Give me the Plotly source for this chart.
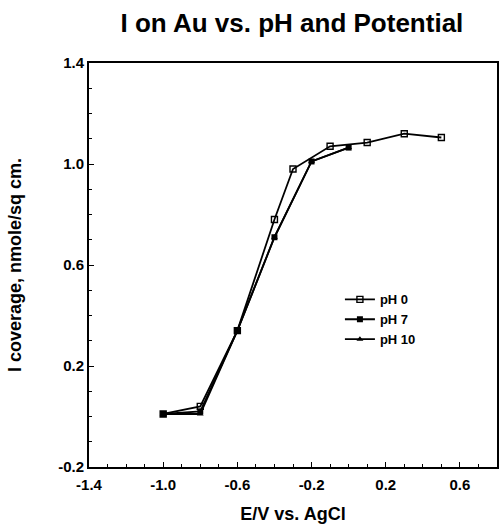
import plotly.graph_objects as go

# Data
ph0_x = [-1.0, -0.8, -0.6, -0.4, -0.3, -0.1, 0.1, 0.3, 0.5]
ph0_y = [0.01, 0.04, 0.34, 0.78, 0.98, 1.07, 1.085, 1.12, 1.105]

ph7_x = [-1.0, -0.8, -0.6, -0.4, -0.2, 0.0]
ph7_y = [0.01, 0.02, 0.34, 0.71, 1.01, 1.065]

ph10_x = [-1.0, -0.8, -0.6, -0.4, -0.2, 0.0]
ph10_y = [0.01, 0.01, 0.34, 0.71, 1.01, 1.065]

x_ticks = [-1.4, -1.0, -0.6, -0.2, 0.2, 0.6]
x_tick_labels = ["-1.4", "-1.0", "-0.6", "-0.2", "0.2", "0.6"]
y_ticks = [-0.2, 0.2, 0.6, 1.0, 1.4]
y_tick_labels = ["-0.2", "0.2", "0.6", "1.0", "1.4"]

FONT = "Liberation Sans, Arial, Helvetica, sans-serif"

fig = go.Figure()
fig.add_trace(go.Scatter(
    x=ph0_x, y=ph0_y, name="pH 0", mode="lines+markers",
    line=dict(color="black", width=1.8),
    marker=dict(symbol="square-open", size=6, color="black", line=dict(width=1.4)),
))
fig.add_trace(go.Scatter(
    x=ph7_x, y=ph7_y, name="pH 7", mode="lines+markers",
    line=dict(color="black", width=1.8),
    marker=dict(symbol="square", size=6, color="black"),
))
fig.add_trace(go.Scatter(
    x=ph10_x, y=ph10_y, name="pH 10", mode="lines+markers",
    line=dict(color="black", width=1.8),
    marker=dict(symbol="triangle-up", size=6, color="black"),
))

fig.update_layout(
    width=499, height=524,
    margin=dict(l=89, r=2, t=63, b=57, autoexpand=False),
    paper_bgcolor="white", plot_bgcolor="white",
    title=dict(text="I on Au vs. pH and Potential", x=0.585, xanchor="center",
               y=0.956, yanchor="middle",
               font=dict(family=FONT, size=26, color="black", weight="bold")),
    showlegend=True,
    legend=dict(x=0.615, y=0.452, xanchor="left", yanchor="top",
                bgcolor="rgba(0,0,0,0)", borderwidth=0,
                font=dict(family=FONT, size=13, color="black", weight="bold"),
                tracegroupgap=0, itemwidth=30),
    font=dict(family=FONT, color="black"),
)

fig.update_xaxes(
    range=[-1.4, 0.8], tickmode="array", tickvals=x_ticks, ticktext=x_tick_labels,
    ticks="inside", ticklen=5, tickwidth=1, tickcolor="black",
    minor=dict(dtick=0.1, tick0=-1.4, ticks="inside", ticklen=3, tickcolor="black", showgrid=False),
    showline=True, linecolor="black", linewidth=2, mirror=True,
    showgrid=False, zeroline=False, automargin=False, ticklabelstandoff=3,
    tickfont=dict(family=FONT, size=15, color="black", weight="bold"),
    title=dict(text="E/V vs. AgCl", standoff=17,
               font=dict(family=FONT, size=18, color="black", weight="bold")),
)
fig.update_yaxes(
    range=[-0.2, 1.4], tickmode="array", tickvals=y_ticks, ticktext=y_tick_labels,
    ticks="inside", ticklen=5, tickwidth=1, tickcolor="black",
    minor=dict(dtick=0.1, tick0=-0.2, ticks="inside", ticklen=3, tickcolor="black", showgrid=False),
    showline=True, linecolor="black", linewidth=2, mirror=True,
    showgrid=False, zeroline=False, automargin=False,
    tickfont=dict(family=FONT, size=15, color="black", weight="bold"),
    title=dict(text="I coverage, nmole/sq cm.", standoff=32,
               font=dict(family=FONT, size=18, color="black", weight="bold")),
)

fig.write_html(
    "out.html",
    config={"displayModeBar": False},
    post_script="document.body.style.margin='0px';document.body.style.overflow='hidden';",
)
